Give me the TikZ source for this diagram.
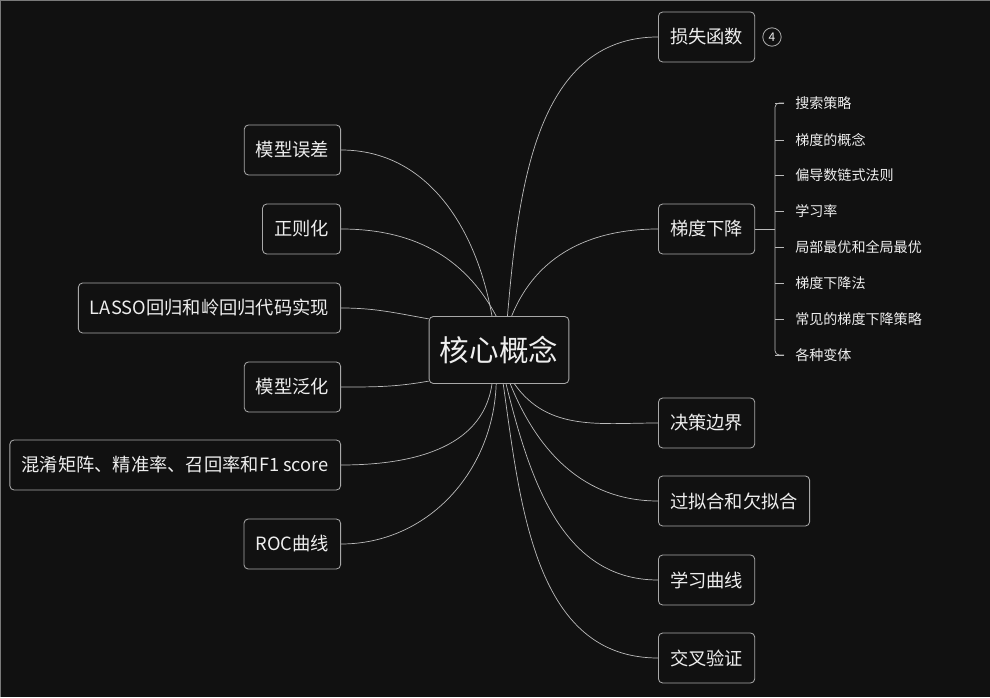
\documentclass[tikz,border=0pt]{standalone}
\usepackage{fontspec}
\setmainfont{Noto Sans CJK SC}
\usepackage{xcolor}
\usetikzlibrary{calc,positioning}

\definecolor{bgc}{HTML}{111111}
\definecolor{boxc}{HTML}{A8A8A8}
\definecolor{linec}{HTML}{BBBBBB}
\definecolor{txtc}{HTML}{EEEEEE}
\definecolor{edgec}{HTML}{7A7A7A}

\tikzset{
  topic/.style={draw=boxc, fill=bgc, rounded corners=3pt, text=txtc,
    font=\fontsize{13}{15}\selectfont, minimum height=1.25cm,
    inner xsep=0.29cm, line width=0.6pt},
  core/.style={topic, font=\fontsize{21}{24}\selectfont,
    minimum height=1.675cm, inner xsep=0.27cm},
  leaf/.style={text=txtc, font=\fontsize{10}{12}\selectfont,
    anchor=west, inner sep=0pt},
  link/.style={draw=linec, line width=0.5pt},
}

\begin{document}
\begin{tikzpicture}[x=0.025cm,y=0.025cm]
				\fill[bgc] (0,0) rectangle (990,697);
				\useasboundingbox (0,0) rectangle (990,697);
				\draw[edgec, line width=1.2pt] (0.5,0) -- (0.5,696.5) -- (990,696.5);
				
				% centre
				\node[core] (core) at (499,347) {核心概念};
				
				% right side
				\node[topic, anchor=west] (loss) at (658,660) {损失函数};
				\node[topic, anchor=west] (grad) at (658,468) {梯度下降};
				\node[topic, anchor=west] (bound) at (658,274) {决策边界};
				\node[topic, anchor=west] (fit) at (658,196) {过拟合和欠拟合};
				\node[topic, anchor=west] (lcurve) at (658,117) {学习曲线};
				\node[topic, anchor=west] (cv) at (658,39) {交叉验证};
				
				\node[draw=boxc, circle, line width=0.6pt, inner sep=0pt, minimum size=0.46cm,
				text=txtc, font=\fontsize{8.5}{9}\selectfont, right=0.18cm of loss] (count) {4};
				
				% left side
				\node[topic, anchor=east] (err) at (341,547) {模型误差};
				\node[topic, anchor=east] (reg) at (341,468) {正则化};
				\node[topic, anchor=east] (lasso) at (341,389) {LASSO回归和岭回归代码实现};
				\node[topic, anchor=east] (gen) at (341,310) {模型泛化};
				\node[topic, anchor=east] (conf) at (341,232) {混淆矩阵、精准率、召回率和F1 score};
				\node[topic, anchor=east] (roc) at (341,153) {ROC曲线};
				
				% connectors
				\draw[link] ([xshift=6pt]core.north) to[out=85,in=180] (loss.west);
				\draw[link] ([xshift=9pt]core.north) to[out=68,in=180] (grad.west);
				\draw[link] ([xshift=-5pt]core.north) to[out=100,in=0] (err.east);
				\draw[link] ([xshift=-2pt]core.north) to[out=118,in=0] (reg.east);
				\draw[link] (lasso.east) to[out=0,in=170] ([yshift=-2pt]core.north west);
				\draw[link] (gen.east) to[out=0,in=190] ([yshift=2pt]core.south west);
				\draw[link] ([xshift=-5pt]core.south) to[out=262,in=0] (conf.east);
				\draw[link] ([xshift=-2pt]core.south) to[out=268,in=0] (roc.east);
				\draw[link] ([xshift=11pt]core.south) to[out=-55,in=180] (bound.west);
				\draw[link] ([xshift=8pt]core.south) to[out=-68,in=180] (fit.west);
				\draw[link] ([xshift=5pt]core.south) to[out=-76,in=180] (lcurve.west);
				\draw[link] ([xshift=3pt]core.south) to[out=-82,in=180] (cv.west);
				
				% sub items of grad
				\coordinate (brace) at (775,468);
				\draw[link] (grad.east) -- (brace);
				\draw[link, rounded corners=3pt] (784,594) -- (775,594) -- (775,342) -- (784,342);
				
				\foreach \y/\t in {594/搜索策略, 557/梯度的概念, 522/偏导数链式法则, 486/学习率,
					450/局部最优和全局最优, 414/梯度下降法, 378/常见的梯度下降策略, 342/各种变体}{
					\draw[link] (775,\y) -- (784,\y);
					\node[leaf] at (795,\y) {\t};}
			\end{tikzpicture}
\end{document}
